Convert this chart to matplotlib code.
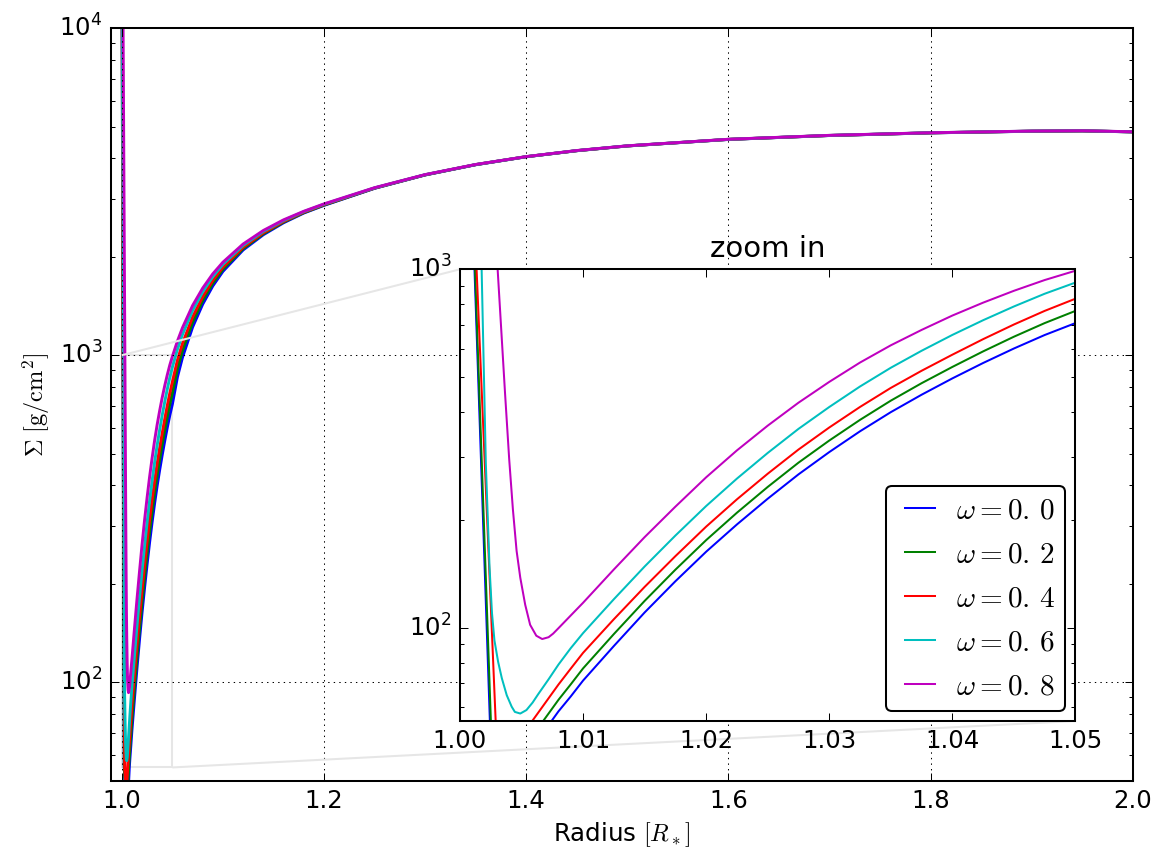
import numpy as np
import matplotlib
matplotlib.use("Agg")
import matplotlib.pyplot as plt
from matplotlib.ticker import FormatStrFormatter
from mpl_toolkits.axes_grid1.inset_locator import mark_inset

plt.style.use('classic')

# ---- data ----
omegas = ['0.0', '0.2', '0.4', '0.6', '0.8']
colors = ['b', 'g', 'r', 'c', 'm']

# close to the stellar surface every curve has its own sampling
x_in_w00 = [1.0000, 1.00118, 1.00243, 1.0049, 1.00744]
s_in_w00 = [30000, 1000, 55, 38, 55]
x_in_w02 = [1.0000, 1.00122, 1.00251, 1.0047, 1.00676]
s_in_w02 = [30000, 1000, 55, 42, 55]
x_in_w04 = [1.0000, 1.00135, 1.0029, 1.0044, 1.00587]
s_in_w04 = [30000, 1000, 55, 46, 55]
x_in_w06 = [1.0000, 1.00176, 1.0021, 1.0024, 1.0026, 1.0028, 1.0031, 1.0034,
            1.0038, 1.0042, 1.00446, 1.0049, 1.0054, 1.0059, 1.00635, 1.0072]
s_in_w06 = [30000, 1000, 288, 148, 110, 92.3, 80.4, 72.4,
            64.9, 60.3, 58.3, 57.7, 59.0, 61.9, 65.3, 71.9]
x_in_w08 = [1.0000, 1.0013, 1.00306, 1.00366, 1.0040, 1.0043, 1.0046, 1.0049,
            1.0053, 1.0057, 1.0062, 1.00668, 1.0072, 1.00757]
s_in_w08 = [50000, 10000, 1000, 452, 295, 214, 164, 138,
            116, 102, 95.1, 93.1, 94.2, 96.4]

# further out: shared radius grid
x_out = [1.008, 1.009, 1.010, 1.0125, 1.015, 1.0175, 1.020, 1.0225, 1.025, 1.0275,
         1.030, 1.0325, 1.035, 1.0375, 1.040, 1.0425, 1.045, 1.0475, 1.050,
         1.055, 1.06, 1.07, 1.08, 1.09, 1.10, 1.12, 1.14, 1.16, 1.18, 1.20,
         1.25, 1.30, 1.35, 1.40, 1.45, 1.50, 1.60, 1.70, 1.80, 1.90, 1.95, 2.00]
s_out_w00 = [58.5, 64.4, 71.3, 89.0, 110.4, 134.9, 163.1, 194.3, 229.2, 268.0,
             309.2, 353.4, 399.6, 446.9, 496.3, 547.9, 601.3, 655.7, 707.9,
             857, 984, 1218, 1432, 1628, 1804, 2098, 2335, 2540, 2720, 2871,
             3236, 3555, 3821, 4041, 4217, 4360, 4565, 4693, 4781, 4836, 4848, 4814]
s_out_w02 = [63.0, 69.6, 77.1, 96.1, 118.9, 145.3, 175.7, 209.5, 247.2, 288.9,
             333.0, 380.3, 430.2, 481.2, 534.2, 590.3, 648.6, 707.9, 765.6,
             908, 1032, 1261, 1470, 1660, 1831, 2118, 2351, 2552, 2728, 2877,
             3240, 3557, 3823, 4043, 4218, 4361, 4567, 4694, 4782, 4838, 4849, 4815]
s_out_w04 = [69.5, 77.0, 85.2, 105.7, 130.1, 158.5, 191.6, 228.3, 269.1, 314.3,
             362.1, 413.2, 466.9, 521.2, 577.9, 638.5, 701.5, 765.6, 827.9,
             965, 1086, 1308, 1510, 1694, 1860, 2139, 2367, 2564, 2736, 2885,
             3243, 3560, 3825, 4044, 4219, 4362, 4568, 4695, 4783, 4839, 4850, 4816]
s_out_w06 = [79.0, 87.8, 96.7, 120.2, 148.3, 180.9, 218.7, 260.8, 307.5, 358.9,
             413.0, 471.2, 531.4, 592.6, 656.1, 721.1, 787.6, 854.7, 918.3,
             1042, 1156, 1369, 1562, 1738, 1896, 2166, 2390, 2580, 2747, 2894,
             3247, 3563, 3826, 4045, 4221, 4364, 4569, 4697, 4785, 4841, 4852, 4817]
s_out_w08 = [99.8, 108.3, 117.5, 145.5, 179.1, 217.8, 263.0, 312.6, 366.4, 424.6,
             485.3, 549.5, 613.8, 677.5, 743.0, 807.2, 871.0, 933.3, 990.8,
             1104, 1213, 1418, 1603, 1773, 1924, 2187, 2406, 2593, 2754, 2901,
             3251, 3565, 3828, 4046, 4223, 4365, 4571, 4699, 4786, 4842, 4853, 4819]

x_in = [x_in_w00, x_in_w02, x_in_w04, x_in_w06, x_in_w08]
s_in = [s_in_w00, s_in_w02, s_in_w04, s_in_w06, s_in_w08]
s_out = [s_out_w00, s_out_w02, s_out_w04, s_out_w06, s_out_w08]

k = 1171 / 8.0 / 100.0  # point-size scale (original was 8 in wide)

fig = plt.figure(figsize=(11.71, 8.67), dpi=100)
fig.patch.set_facecolor('white')
ax = fig.add_axes([0.0945, 0.0992, 0.873, 0.8685])
axins = fig.add_axes([0.3928, 0.1684, 0.5256, 0.521])

for i in range(5):
    r = np.array(x_in[i] + x_out)
    sig = np.array(s_in[i] + s_out[i])
    ax.plot(r, sig, color=colors[i], lw=2.1)
    axins.plot(r, sig, color=colors[i], lw=1.45,
               label=r'$\omega = %s.\,%s$' % tuple(omegas[i].split('.')))

for a in (ax, axins):
    a.set_yscale('log')
    for sp in a.spines.values():
        sp.set_linewidth(1.0 * k)
    a.tick_params(which='major', length=4 * k, width=0.5 * k, labelsize=12 * k, pad=4 * k)
    a.tick_params(which='minor', length=2 * k, width=0.5 * k)

ax.set_xlim(0.989, 2.0)
ax.set_ylim(50, 1e4)
ax.xaxis.set_major_formatter(FormatStrFormatter('%.1f'))
ax.grid(True, which='major', color='k', linestyle=':', linewidth=0.5 * k)
ax.set_xlabel(r'Radius $[R_*]$', fontsize=12 * k)
ax.set_ylabel(r'$\Sigma\ [\mathrm{g/cm^2}]$', fontsize=12 * k)

axins.set_xlim(1.0, 1.05)
axins.set_ylim(55, 1000)
axins.set_xticks([1.00, 1.01, 1.02, 1.03, 1.04, 1.05])
axins.xaxis.set_major_formatter(FormatStrFormatter('%.2f'))
axins.set_title('zoom in', fontsize=14.4 * k, pad=8.5)
leg = axins.legend(loc='lower right', fontsize=14.4 * k, fancybox=True,
                   handlelength=1.62, handletextpad=0.42, borderpad=0.35,
                   labelspacing=0.55, borderaxespad=0.35)
leg.get_frame().set_linewidth(1.0 * k)

mark_inset(ax, axins, loc1=2, loc2=4, fc='none', ec='0.9', lw=1.0 * k)

fig.savefig('out.png', dpi=100, facecolor='white')
